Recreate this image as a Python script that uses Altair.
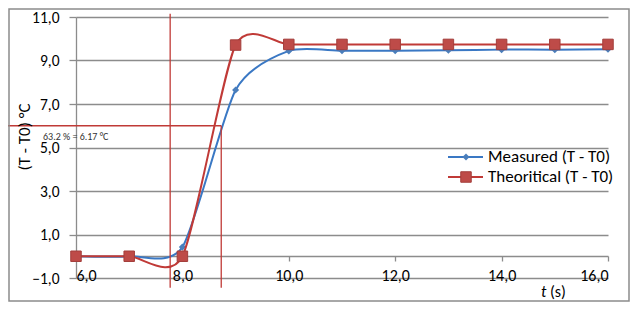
import altair as alt
import pandas as pd

# ---- data ----
t = [6, 7, 8, 9, 10, 11, 12, 13, 14, 15, 16]
measured = [0.0, 0.0, 0.42, 7.64, 9.44, 9.45, 9.45, 9.47, 9.50, 9.50, 9.52]
theoretical = [0.0, 0.0, 0.0, 9.71, 9.74, 9.74, 9.74, 9.74, 9.74, 9.74, 9.74]

x_ticks = [6, 8, 10, 12, 14, 16]
y_ticks = [-1, 1, 3, 5, 7, 9, 11]

ref_t1 = 7.77      # left vertical red rule
ref_t2 = 8.73      # time constant rule
ref_y = 6.0        # 63.2 % level rule
ref_label = "63.2 % = 6.17 °C"

series_names = ["Measured (T - T0)", "Theoritical (T - T0)"]

FONT = "Carlito, Calibri, Lato, sans-serif"
BLUE_LINE = "#3a78c4"
BLUE_MARK = "#4a7ebb"
RED_LINE = "#c03a37"
RED_MARK = "#be4b48"
GRID = "#8c8c8c"

W, H = 532, 261

df = pd.DataFrame({"t": t, "measured": measured, "theoretical": theoretical})
one = pd.DataFrame({"a": [0]})

xs = alt.Scale(domain=[6, 16], nice=False, zero=False)
ys = alt.Scale(domain=[-1, 11], nice=False, zero=False)
fmt = "replace(format(datum.value, '.1f'), '.', ',')"

x_axis = alt.Axis(values=x_ticks, labelExpr=fmt, grid=False, offset=-22,
                  tickSize=5, labelPadding=14, labelBaseline="middle",
                  domainColor=GRID, tickColor=GRID, domainWidth=1.3, tickWidth=1.3,
                  labelFont=FONT, labelFontSize=16, labelColor="#000", title=None)
y_axis = alt.Axis(values=y_ticks, labelExpr=fmt, grid=True, gridColor=GRID, gridWidth=1.3,
                  tickSize=7, labelPadding=10, domainColor=GRID, tickColor=GRID,
                  domainWidth=1.3, tickWidth=1.3,
                  labelFont=FONT, labelFontSize=15.5, labelColor="#000", title=None)

base = alt.Chart(df)

X = alt.X("t:Q", scale=xs, axis=x_axis)

blue_line = base.mark_line(interpolate="cardinal", tension=0.3, color=BLUE_LINE, strokeWidth=2).encode(
    x=X, y=alt.Y("measured:Q", scale=ys, axis=y_axis),
)
blue_pts = base.mark_point(shape="diamond", filled=True, size=50, color=BLUE_MARK, opacity=1).encode(
    x=X, y=alt.Y("measured:Q", scale=ys, axis=y_axis),
)
red_line = base.mark_line(interpolate="cardinal", tension=0.3, color=RED_LINE, strokeWidth=2).encode(
    x=X, y=alt.Y("theoretical:Q", scale=ys, axis=y_axis),
)
red_pts = base.mark_point(shape="square", filled=True, size=110, color=RED_MARK, opacity=1,
                          stroke="#a33e3b", strokeWidth=1).encode(
    x=X, y=alt.Y("theoretical:Q", scale=ys, axis=y_axis),
)

# reference rules
vrules_df = pd.DataFrame({"x": [ref_t1, ref_t2], "y": [11.15, ref_y], "y2": [-1.45, -1.45]})
vrules = alt.Chart(vrules_df).mark_rule(color=RED_LINE, strokeWidth=1.3).encode(
    x=alt.X("x:Q", scale=xs, axis=x_axis),
    y=alt.Y("y:Q", scale=ys, axis=y_axis),
    y2="y2:Q",
)
hrule_df = pd.DataFrame({"x": [4.5], "x2": [ref_t2], "y": [ref_y]})
hrule = alt.Chart(hrule_df).mark_rule(color=RED_LINE, strokeWidth=1.3).encode(
    x=alt.X("x:Q", scale=xs, axis=x_axis),
    x2="x2:Q",
    y=alt.Y("y:Q", scale=ys, axis=y_axis),
)

ann = alt.Chart(one).mark_text(text=ref_label, font=FONT, fontSize=10, color="#333",
                               align="left", baseline="middle").encode(
    x=alt.value(-33), y=alt.value(120))

# axis titles
ytitle = alt.Chart(one).mark_text(text="(T - T0) °C", font=FONT, fontSize=17, angle=270,
                                  align="center", baseline="middle", color="#000").encode(
    x=alt.value(-51), y=alt.value(120))
xt1 = alt.Chart(one).mark_text(text="t", font=FONT, fontSize=16, fontStyle="italic",
                               align="left", baseline="middle", color="#000").encode(
    x=alt.value(465), y=alt.value(275))
xt2 = alt.Chart(one).mark_text(text="(s)", font=FONT, fontSize=16,
                               align="left", baseline="middle", color="#000").encode(
    x=alt.value(474), y=alt.value(275))

# manual legend
leg_b_line = alt.Chart(one).mark_rule(color=BLUE_LINE, strokeWidth=2).encode(
    x=alt.value(372), x2=alt.value(407), y=alt.value(140))
leg_b_pt = alt.Chart(one).mark_point(shape="diamond", filled=True, size=50, color=BLUE_MARK, opacity=1).encode(
    x=alt.value(390), y=alt.value(140))
leg_b_txt = alt.Chart(one).mark_text(text=series_names[0], font=FONT, fontSize=17, align="left",
                                     baseline="middle", color="#000").encode(
    x=alt.value(412), y=alt.value(140))
leg_r_line = alt.Chart(one).mark_rule(color=RED_LINE, strokeWidth=2).encode(
    x=alt.value(372), x2=alt.value(407), y=alt.value(160))
leg_r_pt = alt.Chart(one).mark_point(shape="square", filled=True, size=110, color=RED_MARK, opacity=1,
                                     stroke="#a33e3b", strokeWidth=1).encode(
    x=alt.value(390), y=alt.value(160))
leg_r_txt = alt.Chart(one).mark_text(text=series_names[1], font=FONT, fontSize=17, align="left",
                                     baseline="middle", color="#000").encode(
    x=alt.value(412), y=alt.value(160))

border = alt.Chart(one).mark_rect(fillOpacity=0, stroke="#8c8c8c", strokeWidth=1.5).encode(
    x=alt.value(-67), x2=alt.value(553), y=alt.value(-8), y2=alt.value(284))

chart = alt.layer(
    blue_line, blue_pts, red_line, red_pts, vrules, hrule, ann, ytitle, xt1, xt2,
    leg_b_line, leg_b_pt, leg_b_txt, leg_r_line, leg_r_pt, leg_r_txt, border,
).properties(
    width=W, height=H,
    padding={"left": 68, "top": 9, "right": 22, "bottom": 24},
    autosize=alt.AutoSizeParams(type="none"),
    background="white",
).configure_view(stroke=None)

chart.save("out.html", embed_options={"renderer": "svg", "actions": False})
